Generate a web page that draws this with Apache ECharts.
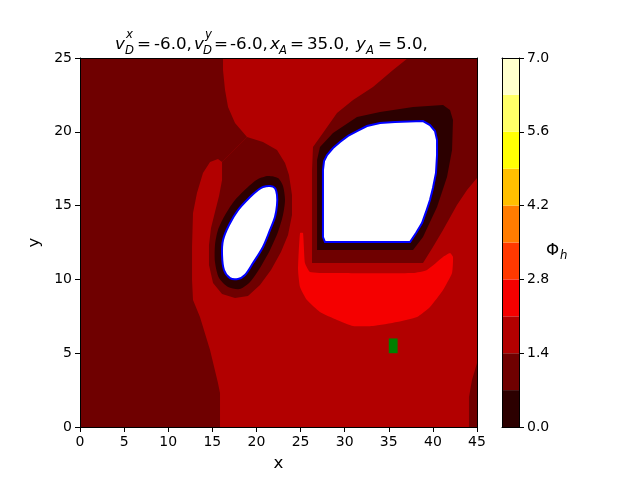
<!DOCTYPE html>
<html><head><meta charset="utf-8">
<script src="https://cdn.jsdelivr.net/npm/echarts@6/dist/echarts.min.js"></script>
<style>html,body{margin:0;padding:0;background:#fff}#c{width:640px;height:480px}</style>
</head><body><div id="c"></div>
<script>
// ---- data (all in data coordinates) ----
const xRange = [0, 45];
const yRange = [0, 25];
const levelBounds = [0, 0.7, 1.4, 2.1, 2.8, 3.5, 4.2, 4.9, 5.6, 6.3, 7.0];
const levelColors = ['#2c0000','#6f0000','#b20000','#f50000','#ff3900','#ff7c00','#ffbf00','#ffff04','#ffff68','#ffffcd'];
const colorbarTicks = [0, 1.4, 2.8, 4.2, 5.6, 7.0];

const plotArea = [[0,0],[45,0],[45,25],[0,25]];

// level 2 (1.4-2.1) main region
const regionLevel2 = [
 [16.21,25],[37.18,25],[35.48,24.19],[33.21,23.03],[30.95,22.15],[29.13,21.27],[27.54,19.92],
 [26.41,18.97],[26.30,17.41],[26.30,11.11],[38.88,11.11],[40.01,12.20],[41.15,13.35],[42.73,15.04],
 [43.87,16.06],[45,16.87],[45,4.34],[44.43,3.18],[44.09,2.03],[44.09,0],[15.87,0],[15.87,2.30],
 [15.64,2.98],[14.74,5.22],[13.60,7.45],[12.81,8.60],[12.70,9.96],[12.70,12.20],[12.81,14.50],
 [13.26,15.85],[13.94,17.21],[14.74,17.95],[15.64,18.16],[16.10,17.95],[18.93,19.65],[17.57,20.60],
 [16.78,21.68],[16.44,22.83],[16.21,24.19]
];
// level 1 (0.7-1.4) ring around the small obstacle
const ringSmallLevel1 = [
 [16.10,17.95],[18.93,19.65],[20.74,19.31],[22.33,18.77],[23.24,17.89],[23.69,17.07],[24.03,15.72],
 [24.03,14.36],[23.58,13.01],[22.78,11.86],[21.65,10.64],[20.40,9.62],[19.04,8.88],[17.57,8.74],
 [16.10,9.01],[15.08,9.76],[14.62,10.98],[14.62,12.33],[14.85,13.48],[15.30,14.57],[15.76,15.65],
 [16.10,16.73],[16.10,17.55]
];
// level 0 (0-0.7) rings
const ringSmallLevel0 = [
 [21.31,17.01],[22.44,16.87],[23.01,16.33],[23.24,15.38],[23.01,14.36],[22.44,13.21],[21.54,11.99],
 [20.40,10.77],[19.27,9.82],[18.14,9.35],[16.78,9.49],[15.76,10.09],[15.30,11.18],[15.30,12.33],
 [15.64,13.35],[16.44,14.36],[17.57,15.38],[19.04,16.26],[20.18,16.80]
];
const ringLargeLevel0 = [
 [26.87,11.99],[37.75,11.99],[38.88,12.87],[40.47,14.91],[41.60,16.94],[42.17,18.77],[42.28,20.80],
 [41.94,21.48],[41.15,21.82],[37.75,21.68],[34.01,21.34],[31.40,21.00],[28.68,19.92],[27.20,18.97],[26.87,18.09]
];
// level 3 (2.1-2.8) region below the large obstacle
const regionLevel3 = [
 [25.28,13.14],[24.94,13.14],[24.72,10.64],[24.94,9.49],[25.73,8.60],[27.20,7.79],[29.13,7.25],
 [30.95,6.84],[33.21,6.84],[35.93,7.11],[38.20,7.45],[39.67,8.13],[41.15,9.28],[42.17,10.43],
 [42.28,11.52],[41.94,11.79],[41.15,11.52],[39.33,10.64],[37.75,10.43],[28.34,10.43],[26.07,10.50],[25.50,11.11]
];
// obstacles (no data)
const holeSmall = [
 [20.74,16.26],[21.54,16.33],[22.10,16.19],[22.33,15.72],[22.33,15.04],[22.10,14.23],[21.54,13.35],
 [20.74,12.20],[19.61,11.11],[18.70,10.30],[17.91,10.03],[17.00,10.09],[16.32,10.64],[16.10,11.65],
 [16.21,12.67],[16.89,13.69],[17.91,14.70],[19.27,15.58],[20.18,16.06]
];
const holeLarge = [
 [27.77,12.53],[37.41,12.53],[38.09,13.14],[38.77,13.82],[39.22,14.57],[39.67,15.38],[40.01,16.19],
 [40.35,17.21],[40.47,18.43],[40.47,19.44],[40.24,20.05],[39.67,20.46],[38.88,20.73],[35.71,20.66],
 [34.01,20.60],[32.53,20.39],[31.40,20.05],[30.38,19.72],[29.47,19.31],[28.68,18.90],[28.00,18.43],
 [27.66,18.02],[27.54,17.41],[27.54,12.87]
];
// source box [x0, y0, x1, y1]
const sourceBoxes = [[35, 5, 36, 6]];

// ---- build ----
const layers = [
 {level:1, pts:plotArea},
 {level:2, pts:regionLevel2},
 {level:1, pts:ringSmallLevel1},
 {level:0, pts:ringSmallLevel0, smooth:0.25},
 {level:0, pts:ringLargeLevel0},
 {level:3, pts:regionLevel3, smooth:0.15},
 {level:-1, pts:holeSmall, smooth:0.3},
 {level:-1, pts:holeLarge}
];
const FONT = '"DejaVu Sans", sans-serif';
const chart = echarts.init(document.getElementById('c'), null, {renderer:'canvas', width:640, height:480});

const axisCommon = {
  axisLine:{show:true, onZero:false, lineStyle:{color:'#000', width:1}},
  axisTick:{show:true, length:5, inside:false, lineStyle:{color:'#000', width:1}},
  axisLabel:{color:'#000', fontSize:14, fontFamily:FONT, margin:8},
  splitLine:{show:false}, z:10
};

const titlePieces = [
 {t:'v', x:115, y:45, s:16.7, it:true},
 {t:'x', x:126, y:35, s:11.7, it:true},
 {t:'D', x:125, y:51, s:11.7, it:true},
 {t:'=', x:137, y:45, s:16.7},
 {t:'-6.0,', x:154, y:45, s:16.7},
 {t:'v', x:194, y:45, s:16.7, it:true},
 {t:'y', x:205, y:35, s:11.7, it:true},
 {t:'D', x:203, y:51, s:11.7, it:true},
 {t:'=', x:214, y:45, s:16.7},
 {t:'-6.0,', x:230, y:45, s:16.7},
 {t:'x', x:270, y:45, s:16.7, it:true},
 {t:'A', x:279, y:51, s:11.7, it:true},
 {t:'=', x:290, y:45, s:16.7},
 {t:'35.0,', x:307, y:45, s:16.7},
 {t:'y', x:356, y:45, s:16.7, it:true},
 {t:'A', x:366, y:51, s:11.7, it:true},
 {t:'=', x:378, y:45, s:16.7},
 {t:'5.0,', x:396, y:45, s:16.7}
];
const graphics = titlePieces.map(p => ({
  type:'text', x:p.x, y:p.y, z:100,
  style:{text:p.t, font:(p.it?'italic ':'') + p.s + 'px ' + FONT, fill:'#000', align:'left', verticalAlign:'middle'}
}));
graphics.push({type:'text', x:546, y:251, z:100, style:{text:'\u03A6', font:'16.7px '+FONT, fill:'#000', align:'left', verticalAlign:'middle'}});
graphics.push({type:'text', x:560, y:256, z:100, style:{text:'h', font:'italic 11.7px '+FONT, fill:'#000', align:'left', verticalAlign:'middle'}});

chart.setOption({
  animation:false,
  backgroundColor:'#fff',
  grid:[
    {left:80, top:58, width:397, height:369, show:false},
    {left:502, top:58, width:17, height:369, show:false}
  ],
  xAxis:[
    Object.assign({}, axisCommon, {gridIndex:0, type:'value', min:xRange[0], max:xRange[1], interval:5,
      name:'x', nameLocation:'middle', nameGap:28, nameTextStyle:{fontSize:16.7, color:'#000', fontFamily:FONT}}),
    Object.assign({}, axisCommon, {gridIndex:0, type:'value', position:'top', min:xRange[0], max:xRange[1],
      axisTick:{show:false}, axisLabel:{show:false}}),
    Object.assign({}, axisCommon, {gridIndex:1, type:'value', min:0, max:1, axisTick:{show:false}, axisLabel:{show:false}}),
    Object.assign({}, axisCommon, {gridIndex:1, type:'value', position:'top', min:0, max:1, axisTick:{show:false}, axisLabel:{show:false}})
  ],
  yAxis:[
    Object.assign({}, axisCommon, {gridIndex:0, type:'value', min:yRange[0], max:yRange[1], interval:5,
      name:'y', nameLocation:'middle', nameGap:31, nameRotate:90, nameTextStyle:{fontSize:16.7, color:'#000', fontFamily:FONT}}),
    Object.assign({}, axisCommon, {gridIndex:0, type:'value', position:'right', min:yRange[0], max:yRange[1],
      axisTick:{show:false}, axisLabel:{show:false}}),
    Object.assign({}, axisCommon, {gridIndex:1, type:'value', position:'right', min:0, max:7, interval:1.4,
      axisLabel:{color:'#000', fontSize:14, fontFamily:FONT, margin:8, formatter:v => v.toFixed(1)}}),
    Object.assign({}, axisCommon, {gridIndex:1, type:'value', position:'left', min:0, max:7,
      axisTick:{show:false}, axisLabel:{show:false}})
  ],
  graphic: graphics,
  series:[
    {
      type:'custom', xAxisIndex:0, yAxisIndex:0, clip:true, z:2,
      data: layers.map((l, i) => [i, 0]),
      renderItem(params, api){
        const L = layers[params.dataIndex];
        const points = L.pts.map(p => api.coord(p));
        const hole = L.level < 0;
        return {type:'polygon', shape:{points:points, smooth:L.smooth || 0},
          style:{fill: hole ? '#ffffff' : levelColors[L.level],
                 stroke: hole ? '#0000ff' : null, lineWidth: hole ? 2 : 0}};
      }
    },
    {
      type:'custom', xAxisIndex:0, yAxisIndex:0, clip:true, z:3,
      data: sourceBoxes,
      renderItem(params, api){
        const p0 = api.coord([api.value(0), api.value(3)]);
        const p1 = api.coord([api.value(2), api.value(1)]);
        return {type:'rect', shape:{x:p0[0], y:p0[1], width:p1[0]-p0[0], height:p1[1]-p0[1]}, style:{fill:'#008000'}};
      }
    },
    {
      type:'custom', xAxisIndex:2, yAxisIndex:2, clip:true, z:2,
      data: levelColors.map((c, i) => [i, levelBounds[i], levelBounds[i+1]]),
      renderItem(params, api){
        const i = api.value(0);
        const p0 = api.coord([0, api.value(2)]);
        const p1 = api.coord([1, api.value(1)]);
        return {type:'rect', shape:{x:p0[0], y:p0[1], width:p1[0]-p0[0], height:p1[1]-p0[1]}, style:{fill:levelColors[i]}};
      }
    }
  ]
});
</script></body></html>
